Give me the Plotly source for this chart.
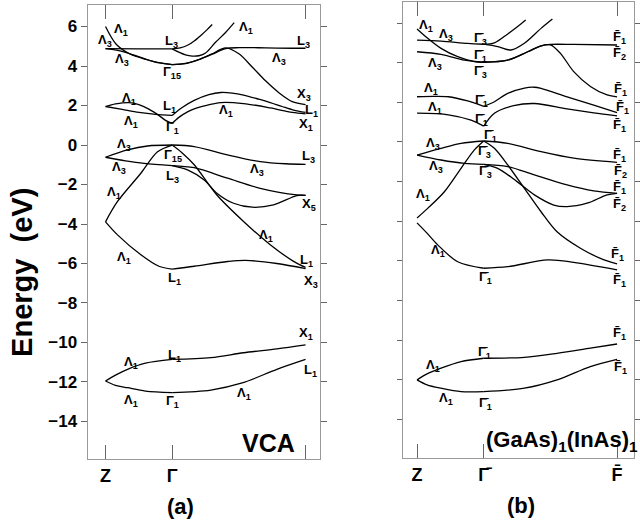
import plotly.graph_objects as go

# ---------------- Panel (a): VCA band structure ----------------
# k: Z = 0, Gamma = 1, X/L = 3
a_c1_kl = [0, 0.16, 0.36, 0.61, 0.86, 1.0]
a_c1_el = [6.0, 5.1, 4.62, 4.33, 4.13, 4.07]
a_c2_kl = [0, 0.2, 0.43, 0.73, 1.0]
a_c2_el = [4.88, 4.78, 4.55, 4.21, 4.07]
a_c3_kl = [0, 0.5, 1.0]
a_c3_el = [4.88, 4.87, 4.87]
a_c1_kr = [1.0, 1.2, 1.4, 1.6, 1.8, 2.0, 2.2, 2.4, 2.6, 2.8, 3.0]
a_c1_er = [4.07, 4.13, 4.33, 4.62, 4.92, 4.62, 3.95, 3.25, 2.65, 2.2, 2.05]
a_c2_kr = [1.0, 1.2, 1.4, 1.6, 1.8, 2.0, 2.4, 2.8, 3.0]
a_c2_er = [4.07, 4.12, 4.32, 4.6, 4.88, 4.93, 4.92, 4.9, 4.9]
a_c3_kr = [1.0, 1.1, 1.2, 1.3, 1.4, 1.5, 1.65, 1.8, 1.93]
a_c3_er = [4.87, 4.7, 4.56, 4.5, 4.52, 4.66, 5.2, 5.7, 6.2]
a_c4_kr = [1.0, 1.12, 1.23, 1.33, 1.43, 1.52, 1.6]
a_c4_er = [4.87, 4.92, 5.05, 5.27, 5.55, 5.83, 6.1]

a_m1_kl = [0, 0.15, 0.35, 0.5, 0.65, 0.8, 0.9, 1.0]
a_m1_el = [1.95, 2.08, 2.15, 2.05, 1.82, 1.5, 1.25, 1.09]
a_m2_kl = [0, 0.25, 0.5, 0.75, 1.0]
a_m2_el = [1.95, 1.8, 1.65, 1.55, 1.5]
a_m2_kr = [1.0, 1.15, 1.33, 1.55, 1.73, 1.9, 2.07, 2.3, 2.47, 2.65, 2.82, 3.0]
a_m2_er = [1.5, 1.9, 2.26, 2.55, 2.66, 2.63, 2.53, 2.32, 2.15, 1.95, 1.77, 1.65]
a_m1_kr = [1.0, 1.1, 1.23, 1.35, 1.48, 1.73, 2.07, 2.47, 2.8, 3.0]
a_m1_er = [1.09, 1.4, 1.68, 1.85, 1.98, 2.15, 2.1, 1.88, 1.65, 1.58]

a_v1_kl = [0, 0.33, 0.63, 1.0]
a_v1_el = [-0.62, -0.25, -0.05, 0.0]
a_v1_kr = [1.0, 1.33, 1.83, 2.32, 2.7, 3.0]
a_v1_er = [0.0, -0.08, -0.5, -0.84, -0.95, -0.98]
a_v2_kl = [0, 0.3, 0.58, 1.0]
a_v2_el = [-0.62, -0.8, -0.93, -1.04]
a_v2_kr = [1.0, 1.33, 1.83, 2.32, 2.87, 3.0]
a_v2_er = [-1.04, -1.15, -1.68, -2.19, -2.53, -2.55]
a_v3_kr = [1.0, 1.23, 1.48, 1.67, 1.92, 2.2, 2.52, 2.87, 3.0]
a_v3_er = [-1.04, -1.26, -1.77, -2.44, -2.95, -3.15, -3.03, -2.56, -2.55]
a_v4_kl = [0, 0.18, 0.53, 0.78, 1.0]
a_v4_el = [-3.89, -2.86, -1.43, -0.34, 0.0]
a_v4_kr = [1.0, 1.15, 1.33, 1.67, 2.07, 2.47, 2.82, 3.0]
a_v4_er = [0.0, -0.4, -1.0, -2.53, -3.87, -5.05, -5.89, -6.2]
a_v5_kl = [0, 0.18, 0.53, 0.8, 1.0]
a_v5_el = [-3.89, -4.55, -5.56, -6.14, -6.28]
a_v5_kr = [1.0, 1.33, 1.83, 2.1, 2.57, 3.0]
a_v5_er = [-6.28, -6.14, -5.9, -5.84, -6.0, -6.26]

a_s1_kl = [0, 0.15, 0.33, 0.6, 1.0]
a_s1_el = [-11.95, -11.65, -11.36, -11.05, -10.86]
a_s1_kr = [1.0, 1.58, 2.07, 2.57, 3.0]
a_s1_er = [-10.86, -10.77, -10.52, -10.32, -10.12]
a_s2_kl = [0, 0.15, 0.33, 0.6, 1.0]
a_s2_el = [-11.95, -12.17, -12.29, -12.46, -12.54]
a_s2_kr = [1.0, 1.58, 2.05, 2.57, 3.0]
a_s2_er = [-12.54, -12.41, -12.05, -11.36, -10.86]

# ---------------- Panel (b): (GaAs)1(InAs)1 ----------------
b_c1_kl = [0, 0.16, 0.36, 0.61, 0.86, 1.0]
b_c1_el = [5.7, 5.23, 4.72, 4.3, 4.05, 4.02]
b_c2_kl = [0, 0.36, 0.76, 1.0]
b_c2_el = [5.14, 5.09, 4.97, 4.93]
b_c3_kl = [0, 0.36, 0.71, 1.0]
b_c3_el = [4.55, 4.42, 4.13, 4.02]
b_c1_kr = [1.0, 1.16, 1.36, 1.5, 1.63]
b_c1_er = [4.93, 5.0, 5.45, 5.8, 6.15]
b_c2_kr = [1.0, 1.21, 1.41, 1.61, 1.86, 2.03]
b_c2_er = [4.93, 4.81, 4.64, 4.98, 5.73, 6.2]
b_c3_kr = [1.0, 1.36, 1.66, 1.86, 2.0, 2.35, 3.0]
b_c3_er = [4.02, 4.13, 4.55, 4.85, 4.92, 4.92, 4.89]
b_c4_kr = [1.0, 1.36, 1.66, 1.86, 2.0, 2.15, 2.35, 2.6, 2.85, 3.0]
b_c4_er = [4.02, 4.13, 4.55, 4.85, 4.9, 4.47, 3.55, 2.8, 2.37, 2.27]

b_m1_kl = [0, 0.25, 0.47, 0.76, 0.9, 1.0]
b_m1_el = [2.28, 2.3, 2.28, 2.07, 1.92, 1.8]
b_m1_kr = [1.0, 1.16, 1.36, 1.61, 1.76, 1.86, 2.25, 2.65, 3.0]
b_m1_er = [1.8, 2.03, 2.45, 2.72, 2.76, 2.7, 2.28, 1.86, 1.48]
b_m2_kl = [0, 0.47, 0.81, 1.0]
b_m2_el = [1.45, 1.37, 1.1, 0.8]
b_m2_kr = [1.0, 1.16, 1.45, 1.76, 2.25, 2.65, 3.0]
b_m2_er = [0.8, 1.45, 1.83, 1.94, 1.67, 1.47, 1.32]

b_v1_kl = [0, 0.36, 0.66, 1.0]
b_v1_el = [-0.66, -0.32, -0.07, 0.05]
b_v1_kr = [1.0, 1.36, 1.86, 2.35, 3.0]
b_v1_er = [0.05, -0.07, -0.49, -0.82, -1.03]
b_v2_kl = [0, 0.36, 0.71, 1.0]
b_v2_el = [-0.66, -0.91, -1.08, -1.13]
b_v2_kr = [1.0, 1.36, 1.76, 2.25, 2.65, 3.0]
b_v2_er = [-1.13, -1.24, -1.66, -2.17, -2.47, -2.59]
b_v3_kr = [1.0, 1.21, 1.5, 1.76, 2.05, 2.25, 2.55, 2.85, 3.0]
b_v3_er = [-1.13, -1.33, -2.0, -2.67, -3.18, -3.26, -3.09, -2.67, -2.59]
b_v4_kl = [0, 0.16, 0.41, 0.66, 0.86, 1.0]
b_v4_el = [-3.83, -3.35, -2.51, -1.33, -0.4, 0.05]
b_v4_kr = [1.0, 1.16, 1.36, 1.61, 1.86, 2.1, 2.45, 2.75, 3.0]
b_v4_er = [0.05, -0.32, -1.16, -2.34, -3.52, -4.53, -5.36, -5.87, -6.15]
b_v5_kl = [0, 0.15, 0.31, 0.61, 1.0]
b_v5_el = [-4.08, -4.6, -5.19, -6.04, -6.37]
b_v5_kr = [1.0, 1.36, 1.96, 2.35, 3.0]
b_v5_er = [-6.37, -6.29, -5.95, -6.07, -6.45]

b_s1_kl = [0, 0.15, 0.36, 0.66, 1.0]
b_s1_el = [-12.0, -11.7, -11.41, -11.08, -10.91]
b_s1_kr = [1.0, 1.61, 2.1, 2.6, 3.0]
b_s1_er = [-10.91, -10.86, -10.66, -10.4, -10.19]
b_s2_kl = [0, 0.15, 0.36, 0.66, 1.0]
b_s2_el = [-12.0, -12.25, -12.42, -12.59, -12.59]
b_s2_kr = [1.0, 1.61, 2.1, 2.6, 3.0]
b_s2_er = [-12.59, -12.42, -12.0, -11.33, -10.96]

# ---------------- Axes ticks / labels ----------------
K_TICKS = [0, 1, 3]
A_K_LABELS = ["Z", "Γ", ""]
GB = "Γ\u0304"
FB = "F\u0304"
B_K_LABELS = ["Z", GB, FB]
E_TICKS = [-14, -12, -10, -8, -6, -4, -2, 0, 2, 4, 6]

A_SEGS = [
    (a_c1_kl, a_c1_el), (a_c2_kl, a_c2_el), (a_c3_kl, a_c3_el),
    (a_c1_kr, a_c1_er), (a_c2_kr, a_c2_er), (a_c3_kr, a_c3_er), (a_c4_kr, a_c4_er),
    (a_m1_kl, a_m1_el), (a_m2_kl, a_m2_el), (a_m1_kr, a_m1_er), (a_m2_kr, a_m2_er),
    (a_v1_kl, a_v1_el), (a_v1_kr, a_v1_er), (a_v2_kl, a_v2_el), (a_v2_kr, a_v2_er),
    (a_v3_kr, a_v3_er), (a_v4_kl, a_v4_el), (a_v4_kr, a_v4_er),
    (a_v5_kl, a_v5_el), (a_v5_kr, a_v5_er),
    (a_s1_kl, a_s1_el), (a_s1_kr, a_s1_er), (a_s2_kl, a_s2_el), (a_s2_kr, a_s2_er),
]
B_SEGS = [
    (b_c1_kl, b_c1_el), (b_c2_kl, b_c2_el), (b_c3_kl, b_c3_el),
    (b_c1_kr, b_c1_er), (b_c2_kr, b_c2_er), (b_c3_kr, b_c3_er), (b_c4_kr, b_c4_er),
    (b_m1_kl, b_m1_el), (b_m1_kr, b_m1_er), (b_m2_kl, b_m2_el), (b_m2_kr, b_m2_er),
    (b_v1_kl, b_v1_el), (b_v1_kr, b_v1_er), (b_v2_kl, b_v2_el), (b_v2_kr, b_v2_er),
    (b_v3_kr, b_v3_er), (b_v4_kl, b_v4_el), (b_v4_kr, b_v4_er),
    (b_v5_kl, b_v5_el), (b_v5_kr, b_v5_er),
    (b_s1_kl, b_s1_el), (b_s1_kr, b_s1_er), (b_s2_kl, b_s2_el), (b_s2_kr, b_s2_er),
]


def s(t, n):
    return f"{t}<sub>{n}</sub>"


A_LABELS = [
    (s("Λ", 1), 122, 30), (s("Λ", 3), 105, 40), (s("L", 3), 172, 42), (s("Λ", 1), 247, 28),
    (s("L", 3), 305, 42), (s("Λ", 3), 123, 60), (s("Γ", 15), 173, 73), (s("Λ", 3), 280, 58),
    (s("X", 3), 305, 95), (s("Λ", 1), 130, 98), (s("L", 1), 170, 107), (s("Λ", 1), 227, 110),
    (s("L", 1), 313, 110), (s("Λ", 1), 132, 122), (s("Γ", 1), 173, 128), (s("X", 1), 307, 124),
    (s("Λ", 3), 125, 145), (s("Γ", 15), 174, 155), (s("L", 3), 310, 157), (s("Λ", 3), 120, 168),
    (s("L", 3), 173, 176), (s("Λ", 3), 258, 170), (s("Λ", 1), 115, 192), (s("X", 5), 310, 205),
    (s("Λ", 1), 267, 235), (s("Λ", 1), 125, 257), (s("L", 1), 308, 260), (s("L", 1), 175, 278),
    (s("X", 3), 312, 281), (s("X", 1), 307, 333), (s("Λ", 1), 132, 362), (s("L", 1), 175, 355),
    (s("L", 1), 312, 370), (s("Λ", 1), 132, 400), (s("Γ", 1), 173, 401), (s("Λ", 1), 245, 393),
]
B_LABELS = [
    (s("Λ", 1), 428, 25), (s("Λ", 3), 448, 35), (s(GB, 3), 483, 38), (s(FB, 1), 622, 37),
    (s(FB, 2), 622, 54), (s("Λ", 3), 437, 63), (s(GB, 1), 483, 55), (s(GB, 3), 483, 72),
    (s("Λ", 1), 433, 88), (s(GB, 1), 484, 100), (s(FB, 1), 623, 90), (s("Λ", 1), 437, 108),
    (s(FB, 1), 625, 108), (s(GB, 1), 484, 119), (s(FB, 1), 622, 125), (s(GB, 1), 493, 135),
    (s("Λ", 3), 435, 143), (s(GB, 3), 487, 151), (s(FB, 1), 622, 155), (s("Λ", 3), 438, 166),
    (s(GB, 3), 488, 171), (s(FB, 2), 623, 171), (s("Λ", 1), 425, 195), (s(FB, 1), 622, 187),
    (s(FB, 2), 622, 204), (s("Λ", 1), 440, 250), (s(FB, 1), 620, 255), (s(GB, 1), 488, 277),
    (s(FB, 1), 622, 280), (s(FB, 1), 622, 333), (s(GB, 1), 487, 352), (s("Λ", 1), 435, 365),
    (s(FB, 1), 623, 367), (s("Λ", 1), 448, 398), (s(GB, 1), 488, 403),
]

W, H = 640, 529
FONT = "Liberation Sans, Arial, Helvetica, sans-serif"


def px(x):
    return x / W


def py(y):
    return 1 - y / H


fig = go.Figure()
line = dict(color="black", width=1.3, shape="spline", smoothing=0.9)
for k, e in A_SEGS:
    fig.add_trace(go.Scatter(x=k, y=e, mode="lines", line=line, xaxis="x", yaxis="y",
                             hoverinfo="skip", showlegend=False))
for k, e in B_SEGS:
    fig.add_trace(go.Scatter(x=k, y=e, mode="lines", line=line, xaxis="x2", yaxis="y2",
                             hoverinfo="skip", showlegend=False))


def ann(text, x, y, size, angle=0, xanchor="center"):
    return dict(text=text, x=px(x), y=py(y), xref="paper", yref="paper", showarrow=False,
                xanchor=xanchor, yanchor="middle", textangle=angle,
                font=dict(size=size, family=FONT, color="black", weight="bold"))


annotations = [ann(t, x, y, 13) for t, x, y in A_LABELS + B_LABELS]
annotations += [
    ann("VCA", 270, 443, 25),
    ann("(GaAs)<sub>1</sub>(InAs)<sub>1</sub>", 486, 441, 22, xanchor="left"),
    ann("(a)", 181, 506, 22),
    ann("(b)", 523, 505, 22),
    ann("Energy  (eV)", 22, 272, 29, angle=-90),
]

common = dict(showgrid=False, zeroline=False, showline=True, linecolor="#999", linewidth=1,
              mirror="ticks", tickcolor="#666", tickwidth=1)

fig.update_layout(
    width=W, height=H, margin=dict(l=0, r=0, t=0, b=0),
    paper_bgcolor="white", plot_bgcolor="white", showlegend=False,
    font=dict(family=FONT, color="black"),
    xaxis=dict(domain=[px(88), px(322)], range=[-0.269, 3.224], tickvals=K_TICKS,
               ticktext=A_K_LABELS, ticks="inside", ticklen=14, anchor="y",
               tickfont=dict(size=18, weight="bold"), **common),
    yaxis=dict(domain=[py(459), py(5)], range=[-15.9, 7.09], tickvals=E_TICKS,
               ticks="outside", ticklen=6, anchor="x",
               tickfont=dict(size=17, weight="bold"), **common),
    xaxis2=dict(domain=[px(405), px(637)], range=[-0.209, 3.254], tickvals=K_TICKS,
                ticktext=B_K_LABELS, ticks="inside", ticklen=14, anchor="y2",
                tickfont=dict(size=18, weight="bold"), **common),
    yaxis2=dict(domain=[py(458), py(2)], range=[-15.94, 7.06], tickvals=E_TICKS,
                ticks="outside", ticklen=5, anchor="x2", showticklabels=False, **common),
    annotations=annotations,
)

fig.write_html("out.html")
